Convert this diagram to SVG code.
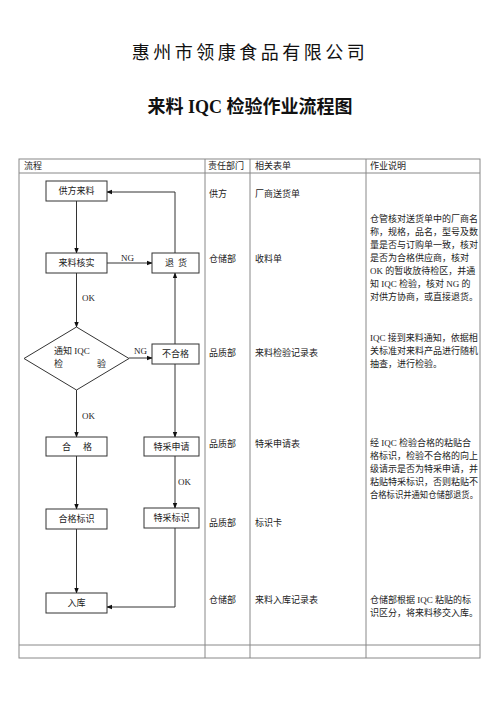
<svg xmlns="http://www.w3.org/2000/svg" width="500" height="708" viewBox="0 0 500 708">
<defs>
<style>
.t{font-family:"Liberation Serif","Noto Sans CJK SC",serif;font-size:9px;fill:#222}
.c{text-anchor:middle}
.box{fill:#fff;stroke:#333;stroke-width:1}
.grid{stroke:#888;stroke-width:1;fill:none}
.ln{stroke:#333;stroke-width:1;fill:none}
.h1{font-family:"Liberation Serif","Noto Sans CJK SC",serif;font-size:18px;fill:#111;text-anchor:middle}
</style>
<marker id="ar" viewBox="0 0 8 8" refX="7" refY="4" markerWidth="6" markerHeight="6" orient="auto">
<path d="M0,1 L8,4 L0,7 z" fill="#111"/>
</marker>
</defs>
<rect width="500" height="708" fill="#fff"/>
<text class="h1" x="250" y="59" letter-spacing="3.5">惠州市领康食品有限公司</text>
<text class="h1" x="250" y="113" font-weight="bold">来料 IQC 检验作业流程图</text>

<g id="table">
<rect class="grid" x="19" y="159" width="461" height="499"/>
<line class="grid" x1="19" y1="173" x2="480" y2="173"/>
<line class="grid" x1="19" y1="645" x2="480" y2="645"/>
<line class="grid" x1="205" y1="159" x2="205" y2="658"/>
<line class="grid" x1="250" y1="159" x2="250" y2="658"/>
<line class="grid" x1="366" y1="159" x2="366" y2="658"/>
<text class="t" x="24" y="169">流程</text>
<text class="t" x="208" y="169">责任部门</text>
<text class="t" x="255" y="169">相关表单</text>
<text class="t" x="370" y="169">作业说明</text>
</g>

<g id="cols" class="t">
<text x="209" y="197">供方</text><text x="255" y="197">厂商送货单</text>
<text x="209" y="262">仓储部</text><text x="255" y="262">收料单</text>
<text x="209" y="356">品质部</text><text x="255" y="356">来料检验记录表</text>
<text x="209" y="447">品质部</text><text x="255" y="447">特采申请表</text>
<text x="209" y="526">品质部</text><text x="255" y="526">标识卡</text>
<text x="209" y="603">仓储部</text><text x="255" y="603">来料入库记录表</text>
</g>

<g id="desc" class="t">
<text x="370" y="222">仓管核对送货单中的厂商名</text>
<text x="370" y="235">称，规格，品名，型号及数</text>
<text x="370" y="248">量是否与订购单一致，核对</text>
<text x="370" y="261">是否为合格供应商，核对</text>
<text x="370" y="274">OK 的暂收放待检区，并通</text>
<text x="370" y="287">知 IQC 检验，核对 NG 的</text>
<text x="370" y="300">对供方协商，或直接退货。</text>
<text x="370" y="341">IQC 接到来料通知，依据相</text>
<text x="370" y="354">关标准对来料产品进行随机</text>
<text x="370" y="367">抽查，进行检验。</text>
<text x="370" y="446">经 IQC 检验合格的粘贴合</text>
<text x="370" y="459">格标识，检验不合格的向上</text>
<text x="370" y="472">级请示是否为特采申请，并</text>
<text x="370" y="485">粘贴特采标识，否则粘贴不</text>
<text x="370" y="498" textLength="108" lengthAdjust="spacingAndGlyphs">合格标识并通知仓储部退货。</text>
<text x="370" y="603">仓储部根据 IQC 粘贴的标</text>
<text x="370" y="616">识区分，将来料移交入库。</text>
</g>

<g id="connectors">
<line class="ln" x1="76.5" y1="201" x2="76.5" y2="253" marker-end="url(#ar)"/>
<polyline class="ln" points="175,253 175,192 107,192" marker-end="url(#ar)"/>
<line class="ln" x1="107" y1="263" x2="152" y2="263" marker-end="url(#ar)"/>
<line class="ln" x1="76.5" y1="273" x2="76.5" y2="327" marker-end="url(#ar)"/>
<line class="ln" x1="129" y1="358" x2="152" y2="358" marker-end="url(#ar)"/>
<line class="ln" x1="175" y1="344" x2="175" y2="273" marker-end="url(#ar)"/>
<line class="ln" x1="175" y1="364" x2="175" y2="437" marker-end="url(#ar)"/>
<line class="ln" x1="76.5" y1="390" x2="76.5" y2="437" marker-end="url(#ar)"/>
<line class="ln" x1="76.5" y1="456" x2="76.5" y2="509" marker-end="url(#ar)"/>
<line class="ln" x1="175" y1="456" x2="175" y2="508" marker-end="url(#ar)"/>
<line class="ln" x1="76.5" y1="529" x2="76.5" y2="593" marker-end="url(#ar)"/>
<polyline class="ln" points="175,528 175,607 107,607" marker-end="url(#ar)"/>
<text class="t" x="121" y="261">NG</text>
<text class="t" x="82" y="301">OK</text>
<text class="t" x="134" y="354">NG</text>
<text class="t" x="82" y="419">OK</text>
<text class="t" x="178" y="485">OK</text>
</g>

<g id="n1"><rect class="box" x="46" y="181" width="61" height="20"/><text class="t c" x="76.5" y="194">供方来料</text></g>
<g id="n2"><rect class="box" x="46" y="253" width="61" height="20"/><text class="t c" x="76.5" y="266">来料核实</text></g>
<g id="n3"><rect class="box" x="152" y="253" width="47" height="20"/><text class="t" x="165" y="266">退</text><text class="t" x="178" y="266">货</text></g>
<g id="n4"><polygon class="box" points="76.5,327 129,358.5 76.5,390 24,358.5"/><text class="t" x="54" y="354">通知 IQC</text><text class="t" x="54" y="367">检</text><text class="t" x="97" y="367">验</text></g>
<g id="n5"><rect class="box" x="152" y="344" width="47" height="20"/><text class="t c" x="175.5" y="357">不合格</text></g>
<g id="n6"><rect class="box" x="46" y="437" width="61" height="19"/><text class="t" x="62" y="450">合</text><text class="t" x="83" y="450">格</text></g>
<g id="n7"><rect class="box" x="144" y="437" width="55" height="19"/><text class="t c" x="171.5" y="450">特采申请</text></g>
<g id="n8"><rect class="box" x="46" y="509" width="61" height="20"/><text class="t c" x="76.5" y="522">合格标识</text></g>
<g id="n9"><rect class="box" x="144" y="508" width="55" height="20"/><text class="t c" x="171.5" y="521">特采标识</text></g>
<g id="n10"><rect class="box" x="46" y="593" width="61" height="20"/><text class="t c" x="76.5" y="606">入库</text></g>
</svg>
